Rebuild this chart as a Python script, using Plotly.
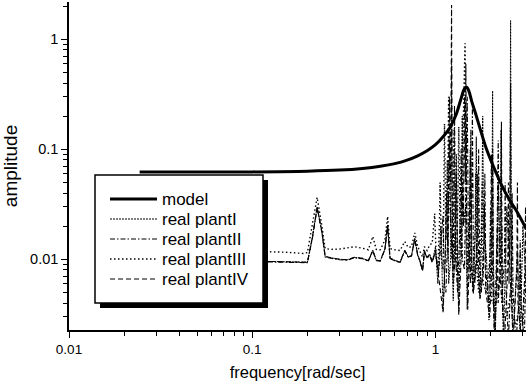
import plotly.graph_objects as go

# ---------------- data ----------------
model_f = [0.0243, 0.05, 0.1, 0.2, 0.3, 0.4, 0.5, 0.6, 0.7, 0.8, 0.9, 1.0, 1.1,
           1.2, 1.3, 1.38, 1.44, 1.48, 1.52, 1.58, 1.65, 1.75, 1.9, 2.1, 2.3,
           2.5, 2.75, 3.12]
model_a = [0.062, 0.0621, 0.0623, 0.0632, 0.0647, 0.067, 0.0701, 0.0741, 0.0798,
           0.0873, 0.097, 0.11, 0.13, 0.158, 0.21, 0.29, 0.355, 0.366, 0.34,
           0.27, 0.215, 0.155, 0.10, 0.066, 0.047, 0.036, 0.028, 0.019]

low_f = [0.025, 0.05, 0.1, 0.15, 0.19, 0.2, 0.213, 0.226, 0.24, 0.25, 0.27, 0.3,
         0.33, 0.36, 0.4, 0.43, 0.455, 0.475, 0.5, 0.53, 0.548, 0.565, 0.6,
         0.64, 0.68, 0.71, 0.74, 0.771, 0.8, 0.822, 0.85, 0.87, 0.9, 0.93]

plant1_low = [0.0097, 0.0097, 0.0096, 0.0095, 0.0093, 0.0094, 0.016, 0.030, 0.018,
              0.0106, 0.0103, 0.0100, 0.0099, 0.0104, 0.0102, 0.0097, 0.0121,
              0.0098, 0.0097, 0.0125, 0.0205, 0.0102, 0.0098, 0.0094, 0.0121,
              0.0105, 0.0108, 0.0155, 0.0110, 0.0098, 0.0080, 0.0115, 0.0105, 0.0112]
plant2_low = [0.0096, 0.0096, 0.0095, 0.0094, 0.0092, 0.0093, 0.0155, 0.029, 0.0175,
              0.0105, 0.0102, 0.0099, 0.0098, 0.0103, 0.0101, 0.0096, 0.0119,
              0.0097, 0.0096, 0.0123, 0.0200, 0.0101, 0.0097, 0.0093, 0.0119,
              0.0104, 0.0107, 0.0152, 0.0108, 0.0096, 0.0078, 0.0118, 0.0102, 0.0108]
plant3_low = [0.0118, 0.0118, 0.0118, 0.0116, 0.0113, 0.0115, 0.020, 0.0366, 0.020,
              0.0125, 0.0123, 0.0124, 0.0127, 0.0130, 0.0126, 0.0122, 0.0161,
              0.0123, 0.0122, 0.0150, 0.0245, 0.0125, 0.0122, 0.0120, 0.0145,
              0.0128, 0.0130, 0.0174, 0.0130, 0.0118, 0.0105, 0.0130, 0.0120, 0.0135]
plant4_low = [0.0097, 0.0097, 0.0096, 0.0095, 0.0093, 0.0094, 0.0158, 0.0295, 0.0178,
              0.0106, 0.0103, 0.0100, 0.0099, 0.0104, 0.0102, 0.0097, 0.0120,
              0.0098, 0.0097, 0.0124, 0.0203, 0.0102, 0.0098, 0.0094, 0.0120,
              0.0105, 0.0108, 0.0154, 0.0109, 0.0097, 0.0079, 0.0120, 0.0104, 0.0110]

plant1_hf_f = [0.96, 1.0, 1.03, 1.07, 1.1, 1.13, 1.16, 1.18, 1.21, 1.224, 1.237, 1.25,
               1.28, 1.3, 1.32, 1.34, 1.38, 1.4, 1.42, 1.46, 1.49, 1.53, 1.56, 1.58,
               1.61, 1.65, 1.67, 1.69, 1.75, 1.79, 1.81, 1.83, 1.9, 1.96, 2.03, 2.05,
               2.07, 2.12, 2.2, 2.25, 2.28, 2.31, 2.35, 2.45, 2.54, 2.57, 2.6, 2.65,
               2.8, 2.9, 3.0, 3.12]
plant1_hf_a = [0.0095, 0.013, 0.006, 0.02, 0.0034, 0.01, 0.08, 0.006, 0.01, 0.6,
               0.008, 0.0042, 0.02, 0.09, 0.01, 0.0034, 0.03, 0.2, 0.02, 0.03,
               0.0035, 0.02, 0.15, 0.01, 0.005, 0.02, 0.13, 0.01, 0.0044, 0.02,
               0.2, 0.02, 0.01, 0.0028, 0.02, 0.34, 0.01, 0.0018, 0.05, 0.01, 0.15,
               0.005, 0.0018, 0.03, 0.01, 1.48, 0.005, 0.0018, 0.012, 0.0018, 0.02,
               0.006]

plant2_hf_f = [0.96, 1.0, 1.04, 1.08, 1.1, 1.12, 1.14, 1.17, 1.19, 1.21, 1.25, 1.27,
               1.29, 1.32, 1.36, 1.38, 1.4, 1.44, 1.47, 1.49, 1.51, 1.55, 1.58, 1.59,
               1.61, 1.64, 1.7, 1.72, 1.74, 1.78, 1.84, 1.86, 1.88, 1.95, 2.0, 2.02,
               2.04, 2.1, 2.17, 2.2, 2.23, 2.3, 2.38, 2.4, 2.43, 2.5, 2.6, 2.62, 2.65,
               2.75, 2.88, 2.9, 2.93, 3.05, 3.12]
plant2_hf_a = [0.0096, 0.0115, 0.0075, 0.015, 0.025, 0.006, 0.005, 0.02, 0.12, 0.02,
               0.008, 0.25, 0.01, 0.005, 0.02, 0.1, 0.01, 0.008, 0.05, 0.3, 0.02,
               0.006, 0.05, 0.244, 0.01, 0.006, 0.02, 0.1, 0.01, 0.005, 0.015, 0.06,
               0.008, 0.004, 0.02, 0.09, 0.01, 0.0018, 0.02, 0.12, 0.01, 0.004, 0.01,
               0.05, 0.005, 0.0018, 0.01, 0.04, 0.005, 0.0018, 0.005, 0.015, 0.004,
               0.0018, 0.008]

plant3_hf_f = [0.96, 0.99, 1.01, 1.03, 1.05, 1.06, 1.08, 1.1, 1.11, 1.12, 1.14, 1.16,
               1.18, 1.2, 1.23, 1.25, 1.26, 1.28, 1.3, 1.33, 1.34, 1.36, 1.39, 1.42,
               1.45, 1.47, 1.5, 1.54, 1.55, 1.57, 1.6, 1.65, 1.66, 1.68, 1.72, 1.78,
               1.8, 1.82, 1.9, 1.98, 2.0, 2.03, 2.15, 2.28, 2.3, 2.33, 2.45, 2.58,
               2.6, 2.63, 2.75, 2.88, 2.9, 2.93, 3.0, 3.12]
plant3_hf_a = [0.014, 0.026, 0.01, 0.008, 0.02, 0.05, 0.01, 0.008, 0.06, 0.17, 0.015,
               0.02, 0.3, 0.03, 0.01, 0.05, 0.15, 0.012, 0.008, 0.05, 0.16, 0.02,
               0.01, 0.2, 0.92, 0.05, 0.008, 0.03, 0.1, 0.01, 0.005, 0.02, 0.06,
               0.008, 0.005, 0.02, 0.05, 0.006, 0.005, 0.01, 0.03, 0.004, 0.004,
               0.008, 0.02, 0.003, 0.003, 0.005, 0.015, 0.003, 0.0025, 0.004, 0.012,
               0.003, 0.0025, 0.01]

plant4_hf_f = [0.96, 1.0, 1.04, 1.08, 1.1, 1.13, 1.15, 1.17, 1.19, 1.21, 1.224, 1.235,
               1.25, 1.28, 1.3, 1.32, 1.34, 1.38, 1.4, 1.42, 1.44, 1.455, 1.465, 1.48,
               1.5, 1.53, 1.55, 1.57, 1.61, 1.68, 1.7, 1.72, 1.75, 1.83, 1.85, 1.88,
               1.98, 2.03, 2.05, 2.07, 2.1, 2.16, 2.18, 2.2, 2.27, 2.29, 2.31, 2.38,
               2.48, 2.5, 2.52, 2.55, 2.57, 2.59, 2.65, 2.78, 2.8, 2.82, 2.95, 3.08,
               3.1, 3.12]
plant4_hf_a = [0.0093, 0.012, 0.007, 0.004, 0.0033, 0.01, 0.04, 0.01, 0.3, 0.05, 2.05,
               0.02, 0.006, 0.01, 0.06, 0.008, 0.0031, 0.01, 0.05, 0.02, 0.3, 0.05,
               0.6, 0.02, 0.0035, 0.01, 0.08, 0.008, 0.0049, 0.01, 0.06, 0.008,
               0.0044, 0.008, 0.03, 0.005, 0.003, 0.01, 0.1, 0.005, 0.0018, 0.006,
               0.02, 0.004, 0.01, 0.178, 0.006, 0.0018, 0.008, 0.05, 0.006, 0.02,
               0.4, 0.005, 0.0018, 0.008, 0.05, 0.004, 0.0018, 0.008, 0.03, 0.01]

legend_names = ["model", "real plantI", "real plantII", "real plantIII", "real plantIV"]

x_tickvals = [0.01, 0.1, 1]
x_ticktext = ["0.01", "0.1", "1"]
x_minor = [0.02, 0.03, 0.04, 0.05, 0.06, 0.07, 0.08, 0.09,
           0.2, 0.3, 0.4, 0.5, 0.6, 0.7, 0.8, 0.9, 2, 3]
y_tickvals = [0.01, 0.1, 1]
y_ticktext = ["0.01", "0.1", "1"]
y_minor = [0.003, 0.004, 0.005, 0.006, 0.007, 0.008, 0.009,
           0.02, 0.03, 0.04, 0.05, 0.06, 0.07, 0.08, 0.09,
           0.2, 0.3, 0.4, 0.5, 0.6, 0.7, 0.8, 0.9, 2]

# ---------------- styles ----------------
W, H = 526, 389
L, R, T, B = 69, 0, 2, 59
PW, PH = W - L - R, H - T - B
FONT = "Liberation Sans, Arial, Helvetica, sans-serif"

styles = [
    dict(color="black", width=3),
    dict(color="black", width=1, dash="2px,1px"),
    dict(color="black", width=1.1, dash="5px,2px,1.5px,2px"),
    dict(color="black", width=1.4, dash="1.5px,2.5px"),
    dict(color="black", width=1.1, dash="5px,3px"),
]

series = [
    (model_f, model_a),
    (low_f + plant1_hf_f, plant1_low + plant1_hf_a),
    (low_f + plant2_hf_f, plant2_low + plant2_hf_a),
    (low_f + plant3_hf_f, plant3_low + plant3_hf_a),
    (low_f + plant4_hf_f, plant4_low + plant4_hf_a),
]

fig = go.Figure()
order = [3, 1, 2, 4, 0]
for i in order:
    xs, ys = series[i]
    fig.add_trace(go.Scatter(x=xs, y=ys, mode="lines", name=legend_names[i],
                             line=dict(**styles[i], shape="spline" if i == 0 else "linear"),
                             showlegend=False))


def px2paper(px, py):
    return (px - L) / PW, (H - B - py) / PH


shapes = []
annotations = []
# legend shadow and box
sx0, sy0 = px2paper(100, 180)
sx1, sy1 = px2paper(268, 308)
shapes.append(dict(type="rect", xref="paper", yref="paper", x0=sx0, x1=sx1, y0=sy1, y1=sy0,
                   fillcolor="black", line=dict(width=0), layer="above"))
bx0, by0 = px2paper(95, 175)
bx1, by1 = px2paper(263, 303)
shapes.append(dict(type="rect", xref="paper", yref="paper", x0=bx0, x1=bx1, y0=by1, y1=by0,
                   fillcolor="white", line=dict(color="black", width=1.5), layer="above"))
for k, name in enumerate(legend_names):
    ry = 199 + 20 * k
    lx0, ly = px2paper(110, ry)
    lx1, _ = px2paper(157, ry)
    st = dict(styles[k])
    shapes.append(dict(type="line", xref="paper", yref="paper", x0=lx0, x1=lx1, y0=ly, y1=ly,
                       line=st, layer="above"))
    tx, _ = px2paper(160, ry)
    annotations.append(dict(xref="paper", yref="paper", x=tx, y=ly, text=name,
                            showarrow=False, xanchor="left", yanchor="middle",
                            font=dict(family=FONT, size=17, color="black")))

fig.update_layout(
    width=W, height=H,
    margin=dict(l=L, r=R, t=T, b=B, pad=0),
    paper_bgcolor="white", plot_bgcolor="white",
    shapes=shapes, annotations=annotations,
    font=dict(family=FONT, color="black"),
)
fig.update_xaxes(
    type="log", range=[-2, 0.494],
    tickvals=x_tickvals, ticktext=x_ticktext,
    ticks="outside", ticklen=6, tickwidth=1.2, tickcolor="black",
    minor=dict(tickvals=x_minor, ticks="outside", ticklen=4, tickwidth=1, tickcolor="black"),
    showline=True, linecolor="black", linewidth=1.5,
    showgrid=False, zeroline=False,
    tickfont=dict(family=FONT, size=13.5, color="black"),
    title=dict(text="frequency[rad/sec]", font=dict(family=FONT, size=16.5, color="black"),
               standoff=10),
)
fig.update_yaxes(
    type="log", range=[-2.643, 0.339],
    tickvals=y_tickvals, ticktext=y_ticktext,
    ticks="outside", ticklen=6, tickwidth=1.2, tickcolor="black",
    minor=dict(tickvals=y_minor, ticks="outside", ticklen=4, tickwidth=1, tickcolor="black"),
    showline=True, linecolor="black", linewidth=1.5,
    showgrid=False, zeroline=False,
    tickfont=dict(family=FONT, size=14.5, color="black"),
    title=dict(text="amplitude", font=dict(family=FONT, size=19, color="black"),
               standoff=8),
)

fig.write_html("out.html")
